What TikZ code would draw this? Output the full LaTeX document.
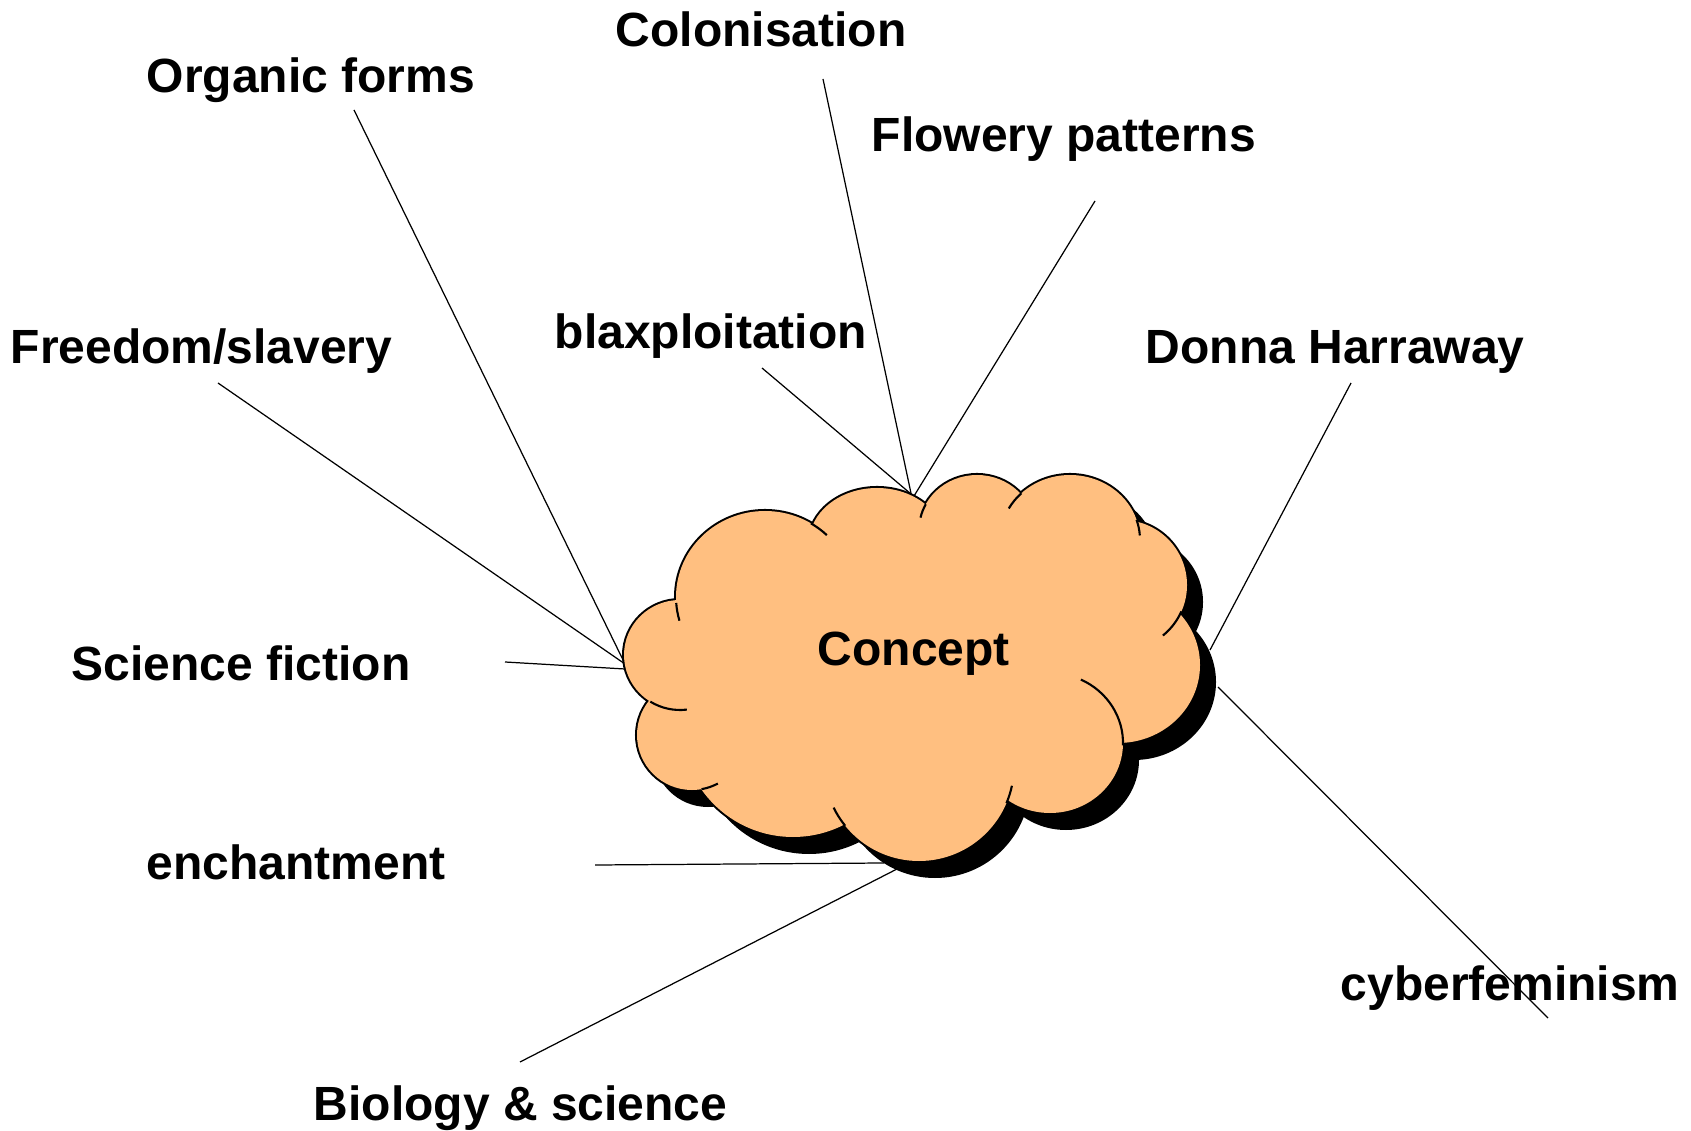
\documentclass[tikz,border=0pt]{standalone}
\usepackage{fontspec}
\setmainfont{Liberation Sans}
\definecolor{cloudfill}{RGB}{255,191,128}
\newcommand\cloudlobes{
  (765,597) circle[x radius=89,y radius=86]
  (877,543) circle[x radius=68,y radius=55]
  (977,530) circle[x radius=58,y radius=55]
  (1070,540) circle[x radius=70,y radius=65]
  (1122,585) circle[x radius=65,y radius=65]
  (1118,665) circle[x radius=82,y radius=78]
  (1050,743) circle[x radius=73,y radius=70]
  (919,766) circle[x radius=95,y radius=95]
  (793,725) circle[x radius=112,y radius=112]
  (692,735) circle[x radius=55,y radius=55]
  (680,655) circle[x radius=56,y radius=55]
}
\newcommand\cloudcore{
  (765,597) -- (877,543) -- (977,530) -- (1070,540) -- (1122,585) -- (1118,665)
  -- (1050,743) -- (919,766) -- (793,725) -- (692,735) -- (680,655) -- cycle
}
\newcommand\cloudtail[6]{%
  \draw[tailline] ([shift={(#5:#3 and #4)}]#1,#2) arc[start angle=#5, end angle=#6, x radius=#3, y radius=#4];}
\begin{document}
\begin{tikzpicture}[x=0.01cm,y=-0.01cm,
  lab/.style={anchor=base west, inner sep=0pt, font=\fontsize{13.65pt}{16pt}\selectfont\bfseries},
  connector/.style={line width=0.35pt, black},
  tailline/.style={line width=0.6pt, black}]
\useasboundingbox (0,0) rectangle (1691,1131);

% labels
\node[lab] (colonisation) at (615,47) {Colonisation};
\node[lab] (organic) at (146,93) {Organic forms};
\node[lab] (flowery) at (871,152) {Flowery patterns};
\node[lab] (blax) at (554,349) {blaxploitation};
\node[lab] (freedom) at (10,364) {Freedom/slavery};
\node[lab] (donna) at (1145,364) {Donna Harraway};
\node[lab] (scifi) at (71,681) {Science fiction};
\node[lab] (enchant) at (146,879) {enchantment};
\node[lab] (cyber) at (1340,1000) {cyberfeminism};
\node[lab] (biology) at (313,1120) {Biology \& science};

% connector end points
\coordinate (colonisation-s) at (823,79);
\coordinate (colonisation-e) at (912,498);
\coordinate (organic-s) at (354,110);
\coordinate (organic-e) at (625,664);
\coordinate (flowery-s) at (1095,201);
\coordinate (flowery-e) at (914,496);
\coordinate (blax-s) at (762,368);
\coordinate (blax-e) at (911,494);
\coordinate (freedom-s) at (218,383);
\coordinate (freedom-e) at (625,664);
\coordinate (donna-s) at (1351,383);
\coordinate (donna-e) at (1210,650);
\coordinate (scifi-s) at (505,662);
\coordinate (scifi-e) at (625,669);
\coordinate (enchant-s) at (595,865);
\coordinate (enchant-e) at (884,863);
\coordinate (biology-s) at (520,1062);
\coordinate (biology-e) at (897,869);
\coordinate (cyber-s) at (1548,1018);
\coordinate (cyber-e) at (1218,687);

\foreach \n in {colonisation,organic,flowery,blax,freedom,donna,scifi,enchant,biology,cyber}
  \draw[connector] (\n-s) -- (\n-e);

% cloud: shadow, outline, fill
\fill[black, shift={(16,17)}] \cloudlobes;
\fill[black, shift={(16,17)}] \cloudcore;
\draw[line width=1.15pt, black] \cloudlobes;
\fill[cloudfill] \cloudlobes;
\fill[cloudfill] \cloudcore;

% inner tails of the lobes
\cloudtail{765}{597}{89}{86}{-59}{-46}
\cloudtail{765}{597}{89}{86}{176}{164}
\cloudtail{977}{530}{58}{55}{-152}{-167}
\cloudtail{1070}{540}{70}{65}{-134}{-151}
\cloudtail{1070}{540}{70}{65}{-18}{-4}
\cloudtail{1122}{585}{65}{65}{24}{51}
\cloudtail{1050}{743}{73}{70}{2}{-65}
\cloudtail{919}{766}{95}{95}{23}{12}
\cloudtail{919}{766}{95}{95}{141}{154}
\cloudtail{692}{735}{55}{55}{80}{62}
\cloudtail{680}{655}{56}{55}{122}{83}

\node[lab] (concept) at (817,666) {Concept};
\end{tikzpicture}
\end{document}
